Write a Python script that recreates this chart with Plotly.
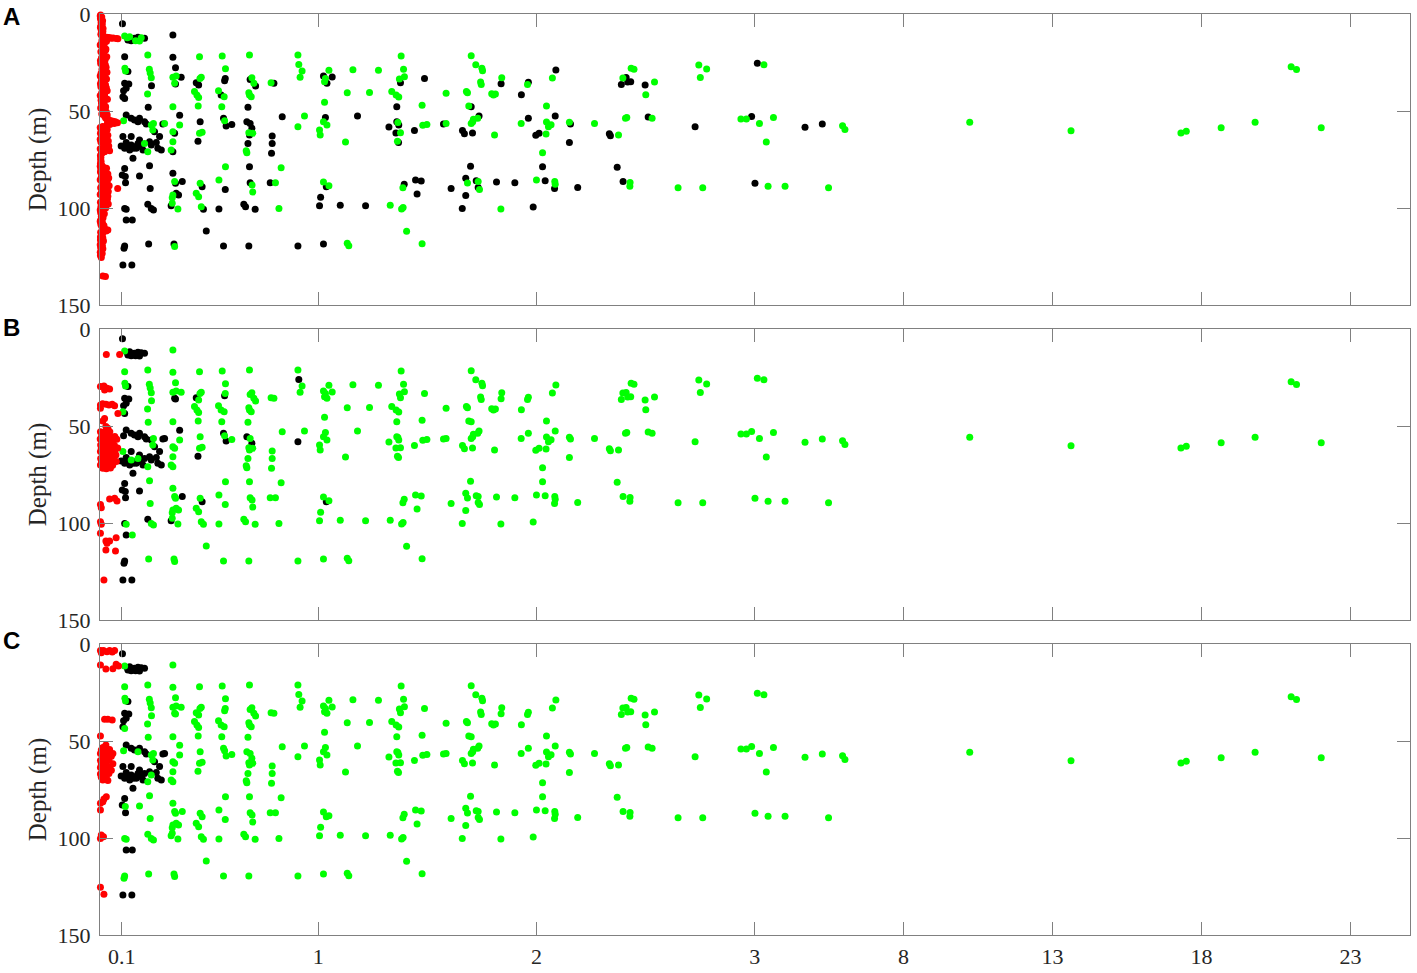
import plotly.graph_objects as go

# ---------------- axis definitions ----------------
X_TICKS = [0.1, 1, 2, 3, 8, 13, 18, 23]
X_TICK_TEXT = ["0.1", "1", "2", "3", "8", "13", "18", "23"]
DEPTH_TICKS = [0, 50, 100, 150]
X_MAX = 25
X_BREAK = 3          # axis is linear up to 3, compressed beyond
X_COMPRESS = 0.1365  # relative width of one unit beyond the break
PANEL_LABELS = ["A", "B", "C"]

# ---------------- shared sample positions (x value, depth in m) ----------------
# class codes: one letter per panel (A, B, C); k = black, g = green
mid_x = [1.380, 1.701, 1.722, 1.750, 1.753, 1.049, 1.159, 1.276, 1.391, 1.024,
         1.064, 1.040, 1.033, 1.029, 1.372, 1.395, 1.377, 1.487, 1.841, 1.838,
         1.744, 1.747, 1.963, 1.959, 2.089, 2.073, 1.133, 1.235, 1.337, 1.357,
         1.369, 1.586, 1.679, 1.684, 1.795, 1.803, 1.812, 1.931, 1.029, 1.476,
         1.360, 1.690, 1.701, 2.046, 1.180, 1.033, 1.024, 1.040, 1.324, 1.360,
         1.369, 1.365, 1.356, 1.377, 1.363, 1.368, 1.441, 1.479, 1.498, 1.574,
         1.586, 1.661, 1.670, 1.707, 1.701, 1.708, 1.711, 1.737, 1.731, 1.808,
         1.930, 1.963, 2.086, 2.046, 2.055, 2.067, 2.044, 1.997, 2.012, 2.151,
         2.156, 2.151, 2.266, 2.334, 2.339, 2.376, 1.125, 2.028, 2.028, 1.698,
         2.370, 1.024, 1.049, 1.037, 1.011, 1.006, 1.101, 1.217, 1.330, 1.382,
         1.389, 1.388, 1.394, 1.446, 1.472, 1.453, 1.676, 1.684, 1.724, 1.733,
         1.733, 1.739, 1.676, 1.660, 1.609, 1.817, 1.901, 1.837, 2.000, 2.040,
         2.084, 2.086, 2.083, 2.189, 1.985, 1.405, 1.024, 1.133, 1.140, 1.476]
mid_depth = [21.7, 21.5, 26.1, 28.0, 29.2, 29.0, 28.7, 29.0, 28.5, 32.0,
             32.5, 35.7, 33.2, 34.9, 33.5, 32.3, 35.4, 33.3, 32.8, 35.9,
             35.1, 36.4, 35.2, 36.4, 28.9, 33.0, 40.6, 40.4, 40.0, 41.8,
             42.8, 40.9, 39.9, 40.6, 41.1, 41.8, 41.2, 41.6, 45.5, 47.1,
             47.8, 47.4, 47.8, 47.4, 52.6, 53.3, 55.5, 57.2, 58.3, 55.5,
             57.2, 55.9, 61.3, 61.2, 65.6, 66.3, 60.1, 57.4, 56.9, 56.7,
             56.4, 60.0, 61.7, 61.3, 56.4, 55.5, 54.3, 52.6, 53.8, 62.4,
             56.5, 53.8, 52.6, 55.7, 58.1, 57.1, 61.9, 62.5, 61.5, 55.8,
             56.7, 66.3, 56.4, 61.7, 62.7, 62.4, 66.0, 71.5, 78.7, 78.5,
             79.0, 86.6, 88.5, 89.0, 94.5, 98.8, 98.6, 98.8, 98.6, 100.5,
             99.7, 89.5, 87.8, 85.6, 86.1, 92.8, 84.7, 87.1, 85.9, 86.4,
             89.4, 90.4, 93.6, 100.2, 89.9, 86.6, 87.0, 100.5, 85.6, 85.9,
             86.4, 87.8, 89.9, 89.4, 99.5, 112.0, 118.6, 118.2, 119.4, 118.4]
mid_class = ["ggg", "ggg", "ggg", "ggg", "ggg", "ggg", "ggg", "ggg", "ggg", "kgg",
             "kgg", "kgg", "ggg", "ggg", "ggg", "ggg", "kgg", "kgg", "ggg", "kgg",
             "ggg", "ggg", "kgg", "ggg", "kgg", "ggg", "ggg", "ggg", "ggg", "ggg",
             "ggg", "ggg", "ggg", "ggg", "ggg", "ggg", "ggg", "kgg", "ggg", "ggg",
             "kgg", "ggg", "kgg", "ggg", "kgg", "kgg", "ggg", "ggg", "kgg", "kgg",
             "kgg", "ggg", "kgg", "ggg", "ggg", "kgg", "kgg", "ggg", "ggg", "kgg",
             "ggg", "kgg", "kgg", "kgg", "ggg", "ggg", "ggg", "kgg", "ggg", "ggg",
             "ggg", "kgg", "kgg", "ggg", "ggg", "ggg", "ggg", "kgg", "kgg", "ggg",
             "kgg", "kgg", "ggg", "kgg", "kgg", "ggg", "ggg", "ggg", "kgg", "kgg",
             "kgg", "ggg", "ggg", "kkg", "kgg", "kgg", "kgg", "kgg", "ggg", "ggg",
             "ggg", "ggg", "kgg", "kgg", "kgg", "kgg", "kgg", "ggg", "kgg", "ggg",
             "kgg", "ggg", "kgg", "kgg", "kgg", "kgg", "kgg", "ggg", "ggg", "kgg",
             "ggg", "ggg", "kgg", "kgg", "kgg", "ggg", "kgg", "ggg", "ggg", "ggg"]

right_x = [3.09, 3.31, 2.434, 2.447, 2.744, 2.780, 2.751, 2.396, 2.411, 2.389,
           2.418, 2.432, 2.498, 2.541, 2.501, 2.408, 2.414, 2.512, 2.530, 2.727,
           2.937, 2.962, 2.986, 3.16, 3.63, 3.39, 4.69, 5.27, 5.95, 6.03,
           2.397, 2.429, 2.428, 2.649, 2.762, 3.01, 3.45, 4.02, 5.48,
           10.22, 13.62, 17.31, 17.49, 18.66, 19.80, 21.01, 21.19, 22.02]
right_depth = [25.4, 26.1, 28.0, 28.5, 26.3, 28.4, 32.7, 33.0, 32.7, 36.4,
               35.1, 34.9, 36.6, 35.1, 41.6, 53.8, 53.3, 53.1, 53.8, 58.1,
               54.1, 54.1, 52.8, 56.4, 53.3, 66.0, 58.4, 56.7, 57.6, 59.6,
               86.4, 86.8, 88.8, 89.5, 89.5, 87.3, 88.8, 88.8, 89.5,
               55.8, 60.2, 61.4, 60.4, 58.6, 55.8, 27.2, 28.6, 58.6]
right_class = ["kgg", "ggg", "ggg", "ggg", "ggg", "ggg", "ggg", "ggg", "kgg", "kgg",
               "kgg", "kgg", "kgg", "ggg", "ggg", "ggg", "ggg", "kgg", "ggg", "kgg",
               "ggg", "ggg", "kgg", "ggg", "ggg", "ggg", "kgg", "kgg", "ggg", "ggg",
               "kgg", "ggg", "ggg", "ggg", "ggg", "kgg", "ggg", "ggg", "ggg",
               "ggg", "ggg", "ggg", "ggg", "ggg", "ggg", "ggg", "ggg", "ggg"]

low_x = [0.103, 0.113, 0.125, 0.136, 0.158, 0.174, 0.189, 0.204, 0.163, 0.181,
         0.128, 0.143, 0.334, 0.113, 0.114, 0.117, 0.128, 0.113, 0.132, 0.108,
         0.120, 0.105, 0.113, 0.219, 0.226, 0.230, 0.235, 0.218, 0.236, 0.221,
         0.334, 0.346, 0.334, 0.349, 0.372, 0.342, 0.346, 0.334, 0.365, 0.456,
         0.458, 0.464, 0.441, 0.452, 0.433, 0.444, 0.452, 0.450, 0.459, 0.456,
         0.468, 0.449, 0.560, 0.575, 0.574, 0.571, 0.543, 0.555, 0.569, 0.558,
         0.566, 0.571, 0.578, 0.604, 0.685, 0.696, 0.688, 0.705, 0.713, 0.682,
         0.685, 0.693, 0.678, 0.673, 0.688, 0.696, 0.682, 0.700, 0.685, 0.678,
         0.670, 0.673, 0.789, 0.789, 0.786, 0.797, 0.784, 0.835, 0.907, 0.911,
         0.926, 0.917, 0.907, 0.937, 0.830, 1.006, 1.009, 0.113, 0.102, 0.116,
         0.117, 0.181, 0.227, 0.230, 0.219, 0.245, 0.235, 0.334, 0.342, 0.346,
         0.377, 0.334, 0.331, 0.349, 0.360, 0.326, 0.331, 0.357, 0.459, 0.468,
         0.441, 0.452, 0.464, 0.474, 0.545, 0.575, 0.545, 0.574, 0.659, 0.667,
         0.711, 0.685, 0.688, 0.697, 0.700, 0.780, 0.804, 0.820, 0.113, 0.110,
         0.223, 0.339, 0.342, 0.566, 0.682, 0.907, 0.105, 0.146, 0.120, 0.148,
         0.487, 0.151, 0.120, 0.113, 0.120, 0.143, 0.158, 0.174, 0.181, 0.204,
         0.212, 0.235, 0.245, 0.242, 0.273, 0.296, 0.288, 0.105, 0.120, 0.128,
         0.143, 0.158, 0.174, 0.189, 0.204, 0.227, 0.235, 0.219, 0.258, 0.265,
         0.281, 0.097, 0.113, 0.108, 0.151, 0.136, 0.166, 0.197, 0.181, 0.143,
         0.250, 0.334, 0.326, 0.334, 0.334, 0.342, 0.365]
low_depth = [5.0, 11.3, 12.2, 11.7, 12.5, 12.0, 12.2, 12.5, 13.8, 13.9,
             13.4, 13.8, 10.8, 22.0, 28.0, 29.4, 29.7, 35.7, 36.1, 39.5,
             38.3, 42.6, 43.6, 21.1, 28.5, 30.4, 32.8, 41.2, 37.0, 48.1,
             22.3, 27.7, 32.6, 32.0, 32.6, 35.7, 36.1, 47.8, 52.2, 22.0,
             33.2, 32.6, 35.4, 36.6, 40.0, 41.8, 43.0, 47.4, 55.5, 61.5,
             61.0, 65.6, 21.7, 28.2, 33.2, 34.4, 39.5, 41.8, 42.6, 47.8,
             53.8, 55.0, 57.7, 56.9, 21.1, 32.8, 33.7, 35.7, 37.1, 40.6,
             41.8, 42.6, 48.1, 55.5, 56.4, 58.9, 61.2, 61.5, 62.4, 66.7,
             70.5, 71.5, 62.9, 66.7, 71.8, 35.7, 35.4, 52.9, 21.1, 26.0,
             29.4, 32.6, 58.1, 52.6, 79.2, 59.8, 62.4, 79.6, 83.0, 83.8,
             87.0, 83.5, 78.2, 89.9, 98.1, 101.0, 100.2, 82.1, 86.4, 87.3,
             86.4, 93.3, 94.7, 92.4, 93.3, 98.8, 97.6, 100.5, 87.3, 89.0,
             92.4, 94.2, 99.3, 100.7, 100.5, 78.7, 85.6, 90.4, 98.1, 99.3,
             100.7, 78.7, 87.0, 88.2, 91.8, 87.0, 87.0, 100.2, 119.6, 120.8,
             118.6, 118.6, 119.9, 119.6, 119.6, 119.6, 129.4, 129.4, 106.2, 106.2,
             111.9, 74.4, 100.7, 100.2, 52.1, 53.8, 54.6, 55.5, 53.8, 55.5,
             56.7, 57.2, 56.4, 59.8, 63.2, 56.4, 56.7, 63.2, 66.3, 68.4,
             67.5, 68.4, 66.7, 68.4, 66.7, 65.8, 67.5, 71.0, 66.3, 69.2,
             70.1, 68.0, 69.2, 55.0, 69.2, 70.1, 69.2, 70.1, 64.9, 63.2,
             60.7, 65.8, 70.1, 71.0, 60.7, 61.5, 57.2]
low_class = ["kkk", "ggg", "gkk", "gkk", "kkk", "kkk", "gkk", "kkk", "gkk", "gkk",
             "kkk", "kkk", "kgg", "kgg", "ggg", "ggg", "kkk", "kkk", "kkk", "kkk",
             "kkk", "kgk", "kkg", "ggg", "ggg", "ggg", "ggg", "ggg", "kgg", "kgg",
             "kgg", "kgg", "ggg", "ggg", "kgg", "gkg", "kkg", "ggg", "kkg", "ggg",
             "ggg", "ggg", "kkg", "kgg", "ggg", "ggg", "ggg", "ggg", "kgg", "ggg",
             "ggg", "kkg", "ggg", "ggg", "kgg", "kkg", "ggg", "kgg", "ggg", "ggg",
             "kkg", "ggg", "kkg", "kgg", "ggg", "ggg", "kgg", "ggg", "kgg", "ggg",
             "ggg", "ggg", "kgg", "kkg", "kgg", "kkg", "ggg", "ggg", "kgg", "kgg",
             "ggg", "ggg", "kgg", "kgg", "kgg", "kgg", "ggg", "kgg", "ggg", "gkg",
             "ggg", "ggg", "gkg", "ggg", "ggg", "ggg", "ggg", "kkk", "kkk", "kkg",
             "kkk", "kkg", "kgg", "kgg", "kkg", "kgg", "kgg", "kgg", "ggg", "kgg",
             "kkg", "ggg", "ggg", "kgg", "kgg", "kkg", "ggg", "ggg", "ggg", "kkg",
             "ggg", "ggg", "ggg", "kgg", "kgg", "ggg", "ggg", "kgg", "kgg", "kgg",
             "kgg", "kgg", "kgg", "ggg", "ggg", "kgg", "ggg", "ggg", "kkg", "kkg",
             "kgg", "kgg", "ggg", "kgg", "kgg", "kgg", "kkk", "kkk", "kkk", "kgk",
             "kgg", "kkk", "kgg", "kkg", "kkk", "kkk", "kkk", "kkg", "kkk", "kkk",
             "kkk", "gkg", "ggg", "ggg", "kkk", "gkk", "kkk", "kgk", "kkk", "kkk",
             "kgk", "kkk", "kgk", "kkk", "gkk", "kkk", "kkg", "ggg", "kkk", "kkk",
             "kkk", "kkk", "kkk", "gkg", "kkk", "kkk", "kkk", "kkk", "kkk", "kkk",
             "kkk", "ggg", "ggg", "kgg", "ggg", "kgg", "ggg"]

# ---------------- red samples, per panel ----------------
red_A_x = [0.003, 0.008, 0.002, 0.012, 0.005, 0.010, 0.003, 0.014, 0.006, 0.011,
           0.004, 0.016, 0.030, 0.045, 0.060, 0.075, 0.082, 0.020, 0.052, 0.038,
           0.009, 0.022, 0.005, 0.018, 0.010, 0.026, 0.004, 0.015, 0.020, 0.007,
           0.024, 0.012, 0.003, 0.019, 0.028, 0.009, 0.016, 0.005, 0.023, 0.011,
           0.030, 0.006, 0.017, 0.025, 0.004, 0.014, 0.033, 0.008, 0.021, 0.013,
           0.027, 0.005, 0.018, 0.010, 0.024, 0.003, 0.015, 0.029, 0.008, 0.020,
           0.030, 0.040, 0.050, 0.060, 0.070, 0.080, 0.065, 0.045, 0.035, 0.025,
           0.012, 0.022, 0.006, 0.018, 0.028, 0.009, 0.016, 0.025, 0.004, 0.032,
           0.040, 0.014, 0.038, 0.021, 0.006, 0.002, 0.004, 0.003, 0.005, 0.002,
           0.008, 0.016, 0.004, 0.022, 0.011, 0.028, 0.006, 0.035, 0.014, 0.024,
           0.009, 0.031, 0.081, 0.018, 0.038, 0.005, 0.026, 0.012, 0.034, 0.008,
           0.020, 0.029, 0.004, 0.015, 0.010, 0.003, 0.012, 0.006, 0.009, 0.002,
           0.011, 0.004, 0.008, 0.016, 0.036, 0.025, 0.003, 0.010, 0.006, 0.013,
           0.002, 0.009, 0.005, 0.011, 0.003, 0.008, 0.004, 0.010, 0.002, 0.006,
           0.013, 0.025,
           0.001, 0.006, 0.009, 0.002, 0.013, 0.007,
           0.030, 0.001, 0.027, 0.012, 0.031, 0.002, 0.024, 0.017, 0.032, 0.001,
           0.018, 0.002, 0.029, 0.020, 0.001, 0.034, 0.007, 0.026, 0.012, 0.033,
           0.030, 0.001, 0.033, 0.012, 0.002, 0.036, 0.024, 0.001, 0.038, 0.014,
           0.022, 0.030, 0.001, 0.044, 0.010, 0.001, 0.030, 0.019, 0.002, 0.036,
           0.012, 0.040, 0.001, 0.033, 0.018, 0.042, 0.003, 0.026, 0.010, 0.031,
           0.001, 0.036, 0.019, 0.028, 0.002, 0.038, 0.014, 0.026, 0.001, 0.020,
           0.014, 0.001, 0.018, 0.028, 0.012, 0.002, 0.016, 0.001, 0.013, 0.001]
red_A_depth = [0.5, 1.5, 2.5, 3.5, 4.5, 5.5, 6.5, 7.5, 8.5, 9.5,
               10.5, 11.5, 12.0, 12.2, 12.4, 12.6, 12.8, 13.0, 12.5, 12.1,
               13.5, 14.5, 15.5, 16.5, 17.5, 18.5, 19.5, 20.5, 21.5, 22.5,
               23.5, 24.5, 25.5, 26.5, 27.5, 28.5, 29.5, 30.5, 31.5, 32.5,
               33.5, 34.5, 35.5, 36.5, 37.5, 38.5, 39.5, 40.5, 41.5, 42.5,
               43.5, 44.5, 45.5, 46.5, 47.5, 48.5, 49.5, 50.5, 51.5, 52.5,
               54.0, 54.5, 55.0, 55.3, 55.6, 56.0, 56.5, 57.0, 55.8, 53.5,
               58.0, 59.0, 60.0, 61.0, 62.0, 63.0, 64.0, 65.0, 66.0, 67.0,
               68.0, 69.0, 70.0, 71.0, 72.0, 73.0, 74.0, 75.0, 76.0, 77.0,
               78.0, 79.0, 80.0, 81.0, 82.0, 83.0, 84.0, 85.0, 86.0, 87.0,
               88.0, 89.0, 89.9, 90.5, 91.5, 92.5, 93.5, 94.5, 95.5, 96.5,
               97.5, 98.5, 99.5, 100.5, 101.5, 102.5, 103.5, 104.5, 105.5, 106.5,
               107.5, 108.5, 109.5, 110.5, 111.3, 111.0, 112.5, 113.5, 114.5, 115.5,
               116.5, 117.5, 118.5, 119.5, 120.5, 121.5, 122.5, 123.5, 124.5, 125.5,
               135.0, 135.3,
               1.0, 3.0, 5.0, 7.0, 9.0, 11.0,
               14.0, 16.0, 18.0, 20.0, 22.0, 24.0, 26.0, 28.0, 30.0, 32.0,
               34.0, 36.0, 38.0, 40.0, 42.0, 44.0, 46.0, 48.0, 50.0, 52.0,
               57.5, 58.5, 59.5, 60.5, 61.5, 62.5, 63.5, 64.5, 65.5, 66.5,
               67.5, 68.5, 69.5, 70.5, 71.5, 78.5, 79.5, 80.5, 81.5, 82.5,
               83.5, 84.5, 85.5, 86.5, 87.5, 88.5, 89.5, 90.0, 91.0, 92.0,
               93.0, 94.0, 95.0, 96.0, 97.0, 98.0, 99.0, 100.0, 101.0, 103.0,
               105.0, 107.0, 109.0, 111.8, 113.0, 115.0, 117.0, 119.0, 121.0, 123.0]

red_B_x = [0.029, 0.090,
           0.002, 0.018, 0.032, 0.044, 0.021,
           0.002, 0.012, 0.027, 0.041, 0.056, 0.067, 0.002,
           0.082, 0.021, 0.013, 0.027, 0.036,
           0.002, 0.014, 0.030, 0.045,
           0.007, 0.026, 0.051, 0.068,
           0.001, 0.019, 0.037, 0.077,
           0.011, 0.030, 0.058,
           0.003, 0.022, 0.043, 0.066,
           0.006, 0.033, 0.055, 0.081,
           0.002, 0.017, 0.042, 0.068,
           0.012, 0.028, 0.053, 0.073,
           0.003, 0.020, 0.045, 0.061,
           0.007, 0.026, 0.051, 0.075,
           0.002, 0.019, 0.035, 0.058,
           0.013, 0.029, 0.048,
           0.002, 0.006, 0.044, 0.067, 0.078, 0.002, 0.006, 0.002,
           0.027, 0.044, 0.032, 0.074, 0.027, 0.071, 0.018]
red_B_depth = [13.1, 13.1,
               29.7, 29.4, 30.6, 30.9, 31.5,
               39.2, 38.5, 38.8, 39.2, 38.8, 39.5, 40.9,
               43.5, 46.1, 47.4, 50.3, 51.2,
               52.9, 53.3, 52.6, 53.0,
               55.5, 55.2, 55.8, 55.4,
               56.7, 57.0, 56.5, 56.8,
               58.1, 58.4, 57.9,
               59.8, 60.1, 59.6, 59.9,
               61.5, 61.2, 61.8, 61.4,
               63.2, 63.5, 63.0, 63.3,
               65.0, 64.7, 65.2, 64.9,
               66.7, 67.0, 66.5, 66.8,
               68.4, 68.1, 68.6, 68.3,
               70.1, 70.4, 69.9, 70.2,
               71.8, 72.0, 71.6,
               90.4, 92.1, 87.6, 87.3, 88.7, 99.3, 100.7, 105.3,
               109.3, 109.3, 110.5, 107.6, 113.9, 114.4, 129.4]

red_C_x = [0.002, 0.006, 0.016, 0.032, 0.044, 0.056, 0.067,
           0.002, 0.027, 0.059, 0.074, 0.085,
           0.021, 0.036, 0.056,
           0.002, 0.027, 0.013,
           0.006, 0.027, 0.044,
           0.002, 0.018, 0.036, 0.059,
           0.012, 0.029, 0.052,
           0.002, 0.021, 0.041,
           0.006, 0.029, 0.059,
           0.002, 0.018, 0.044,
           0.012, 0.032, 0.052,
           0.002, 0.021, 0.041,
           0.006, 0.029,
           0.013, 0.036,
           0.029, 0.018, 0.002, 0.013, 0.002,
           0.006, 0.016, 0.002, 0.002, 0.018]
red_C_depth = [3.4, 4.5, 3.4, 4.0, 3.4, 4.1, 3.4,
               10.8, 12.9, 12.7, 10.5, 11.3,
               38.8, 38.8, 39.2,
               47.4, 52.1, 53.3,
               54.6, 54.9, 54.4,
               56.4, 56.7, 56.2, 56.5,
               58.1, 58.4, 57.9,
               60.1, 60.4, 59.9,
               61.9, 62.2, 61.7,
               63.6, 63.9, 63.4,
               65.3, 65.6, 65.1,
               67.0, 67.3, 66.8,
               68.7, 69.0,
               70.1, 70.4,
               78.7, 79.9, 82.1, 81.3, 85.6,
               98.5, 99.3, 100.2, 125.4, 129.0]

# ---------------- styling ----------------
FONT = "Liberation Serif, Times New Roman, serif"
AXIS_COLOR = "#808080"
TEXT_COLOR = "#262626"
COLORS = {"k": "#000000", "g": "#00ff00", "r": "#ff0000"}
MARKER_SIZE = 7


def x_axis_pos(v):
    """Piecewise linear x axis: linear to X_BREAK, compressed above."""
    return v if v <= X_BREAK else X_BREAK + (v - X_BREAK) * X_COMPRESS


all_x = mid_x + right_x + low_x
all_depth = mid_depth + right_depth + low_depth
all_class = mid_class + right_class + low_class
assert len(all_x) == len(all_depth) == len(all_class)
assert len(red_A_x) == len(red_A_depth)
assert len(red_B_x) == len(red_B_depth)
assert len(red_C_x) == len(red_C_depth)

reds = [(red_A_x, red_A_depth), (red_B_x, red_B_depth), (red_C_x, red_C_depth)]

fig = go.Figure()

axis_ids = ["", "2", "3"]  # A top, B middle, C bottom
domains = [[630 / 921, 1.0], [315 / 921, 606 / 921], [0.0, 291 / 921]]

for p, label in enumerate(PANEL_LABELS):
    xa = "x" + axis_ids[p]
    ya = "y" + axis_ids[p]
    for code in ["k", "g"]:
        xs = [x_axis_pos(all_x[i]) for i in range(len(all_x)) if all_class[i][p] == code]
        ds = [all_depth[i] for i in range(len(all_x)) if all_class[i][p] == code]
        fig.add_trace(go.Scatter(x=xs, y=ds, mode="markers", xaxis=xa, yaxis=ya,
                                 marker=dict(color=COLORS[code], size=MARKER_SIZE, line=dict(width=0)),
                                 cliponaxis=False, showlegend=False, hoverinfo="x+y"))
    rx, rd = reds[p]
    fig.add_trace(go.Scatter(x=[x_axis_pos(v) for v in rx], y=rd, mode="markers", xaxis=xa, yaxis=ya,
                             marker=dict(color=COLORS["r"], size=MARKER_SIZE, line=dict(width=0)),
                             cliponaxis=False, showlegend=False, hoverinfo="x+y"))

layout = dict(
    width=1417, height=973,
    margin=dict(l=100, r=7, t=14, b=38, autoexpand=False),
    plot_bgcolor="white", paper_bgcolor="white",
    showlegend=False,
    font=dict(family=FONT, size=22, color=TEXT_COLOR),
)

for p in range(3):
    xkey = "xaxis" + axis_ids[p]
    ykey = "yaxis" + axis_ids[p]
    layout[xkey] = dict(
        domain=[0, 1], anchor="y" + axis_ids[p],
        range=[0, x_axis_pos(X_MAX)],
        tickvals=[x_axis_pos(v) for v in X_TICKS], ticktext=X_TICK_TEXT,
        showticklabels=(p == 2),
        ticks="inside", ticklen=13, tickwidth=1, tickcolor=AXIS_COLOR,
        showline=True, linecolor=AXIS_COLOR, linewidth=1, mirror="ticks",
        showgrid=False, zeroline=False, automargin=False,
        tickfont=dict(family=FONT, size=22, color=TEXT_COLOR),
        ticklabelstandoff=2,
    )
    layout[ykey] = dict(
        domain=domains[p], anchor="x" + axis_ids[p],
        range=[150, 0],
        tickvals=DEPTH_TICKS,
        ticks="inside", ticklen=13, tickwidth=1, tickcolor=AXIS_COLOR,
        showline=True, linecolor=AXIS_COLOR, linewidth=1, mirror="ticks",
        showgrid=False, zeroline=False, automargin=False,
        tickfont=dict(family=FONT, size=22, color=TEXT_COLOR),
        ticklabelstandoff=4,
        title=dict(text="Depth (m)", font=dict(family=FONT, size=25, color=TEXT_COLOR), standoff=3),
    )

letter_y = [1 - (16 - 14) / 921, 1 - (328 - 14) / 921, 1 - (640 - 14) / 921]
layout["annotations"] = [
    dict(text="<b>%s</b>" % PANEL_LABELS[p], xref="paper", yref="paper",
         x=(11 - 100) / 1310, y=letter_y[p], xanchor="center", yanchor="middle",
         showarrow=False, font=dict(family="Liberation Sans, Arial, sans-serif", size=24, color="#000000"))
    for p in range(3)
]

fig.update_layout(**layout)
# remove the default page margin so the figure sits at the window origin
fig.write_html("out.html",
               config={"displayModeBar": False},
               post_script="document.body.style.margin='0';document.body.style.overflow='hidden';")
